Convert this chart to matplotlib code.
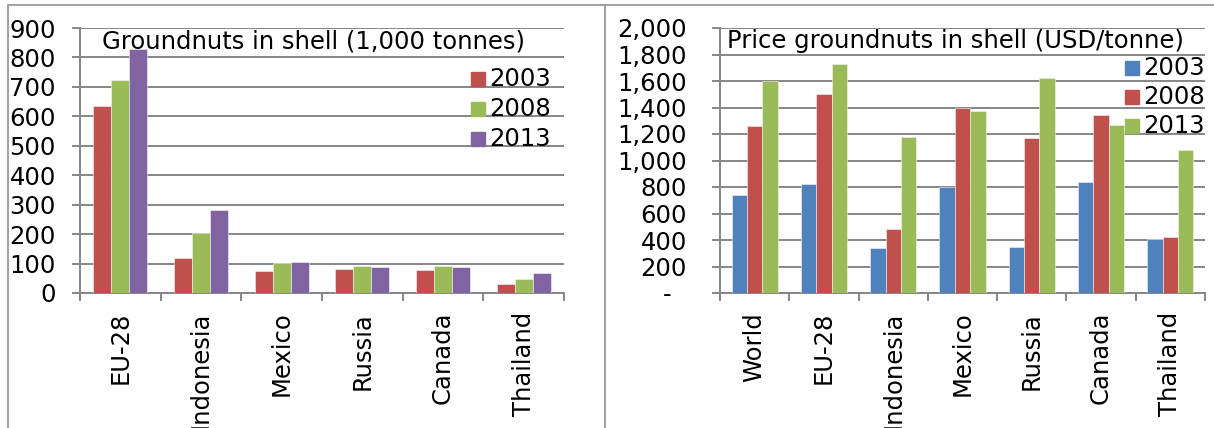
import numpy as np
import matplotlib.pyplot as plt
from matplotlib.lines import Line2D
from matplotlib.ticker import FuncFormatter

# volumes (1,000 tonnes)
vol_countries = ['EU-28', 'Indonesia', 'Mexico', 'Russia', 'Canada', 'Thailand']
vol_2003 = [636, 119, 76, 80, 78, 31]
vol_2008 = [724, 205, 103, 92, 92, 49]
vol_2013 = [827, 281, 106, 90, 88, 67]

# prices (USD/tonne)
price_countries = ['World', 'EU-28', 'Indonesia', 'Mexico', 'Russia', 'Canada', 'Thailand']
price_2003 = [739, 822, 336, 800, 348, 835, 406]
price_2008 = [1261, 1504, 484, 1398, 1173, 1346, 421]
price_2013 = [1601, 1729, 1178, 1371, 1622, 1268, 1078]

RED = '#C0504D'
GREEN = '#9BBB59'
PURPLE = '#8064A2'
BLUE = '#4F81BD'
GRID = '#868686'
FS = 17.5

plt.rcParams['font.family'] = ['DejaVu Sans']

W, H = 1214, 428
fig = plt.figure(figsize=(W / 100, H / 100), dpi=100)


def px_axes(x0, y0, x1, y1):
    return fig.add_axes([x0 / W, 1 - y1 / H, (x1 - x0) / W, (y1 - y0) / H])


def draw_panel(ax, cats, series, colors, labels, ymax, ystep, title, fmt,
               leg_x, leg_y, leg_dy, ypad, title_x):
    n = len(cats)
    x = np.arange(n)
    bw = 0.222
    for k, (vals, col) in enumerate(zip(series, colors)):
        ax.bar(x + (k - 1) * bw, vals, bw, color=col, edgecolor='#f4f4f4',
               linewidth=0.4, zorder=3)
    ax.set_xlim(-0.5, n - 0.5)
    ax.set_ylim(0, ymax)
    ax.set_yticks(np.arange(0, ymax + 1, ystep))
    ax.yaxis.set_major_formatter(FuncFormatter(fmt))
    ax.set_xticks(x)
    ax.set_xticklabels(cats, rotation=90, fontsize=FS, va='top', ha='center')
    ax.set_xticks(np.arange(-0.5, n, 1), minor=True)
    ax.tick_params(axis='x', which='major', length=0, pad=13.5)
    ax.tick_params(axis='x', which='minor', length=5.5, width=1.4, color=GRID)
    ax.tick_params(axis='y', length=5.8, width=1.4, color=GRID, labelsize=FS, pad=ypad)
    ax.grid(axis='y', color=GRID, linewidth=1.4, zorder=0)
    ax.set_axisbelow(True)
    for s in ['top', 'right']:
        ax.spines[s].set_visible(False)
    for s in ['left', 'bottom']:
        ax.spines[s].set_color(GRID)
        ax.spines[s].set_linewidth(1.4)
    ax.patch.set_alpha(0)
    ax.text(title_x, 0.95, title, transform=ax.transAxes, fontsize=FS,
            va='center', ha='left', zorder=5)
    # legend entries: colour square plus year
    for k, (col, lab) in enumerate(zip(colors, labels)):
        yy = leg_y + k * leg_dy
        fig.patches.append(plt.Rectangle((leg_x / W, 1 - (yy + 7) / H), 14 / W, 14 / H,
                                         transform=fig.transFigure, color=col, zorder=6))
        fig.text((leg_x + 18) / W, 1 - yy / H, lab, fontsize=FS, va='center',
                 ha='left', zorder=6)


years = ['2003', '2008', '2013']

ax1 = px_axes(80, 28, 564, 293)
draw_panel(ax1, vol_countries, [vol_2003, vol_2008, vol_2013],
           [RED, GREEN, PURPLE], years, 900, 100,
           'Groundnuts in shell (1,000 tonnes)', lambda v, p: f'{v:.0f}',
           471, 79, 30, 11.5, 0.045)


def price_fmt(v, p):
    # accounting style: zero shown as a dash
    return '-\u00a0\u00a0' if v == 0 else f'{v:,.0f}'


ax2 = px_axes(720, 28, 1205, 293)
draw_panel(ax2, price_countries, [price_2003, price_2008, price_2013],
           [BLUE, RED, GREEN], years, 2000, 200,
           'Price groundnuts in shell (USD/tonne)', price_fmt,
           1125, 68, 29, 18, 0.015)

# panel frames
frame = dict(color='#A0A0A0', linewidth=1.4, transform=fig.transFigure)
fig.lines.append(Line2D([8 / W, 8 / W], [0, 1 - 5 / H], **frame))
fig.lines.append(Line2D([8 / W, 1], [1 - 5 / H, 1 - 5 / H], **frame))
fig.lines.append(Line2D([605 / W, 605 / W], [0, 1 - 5 / H], **frame))

fig.savefig('out.png', dpi=100)
